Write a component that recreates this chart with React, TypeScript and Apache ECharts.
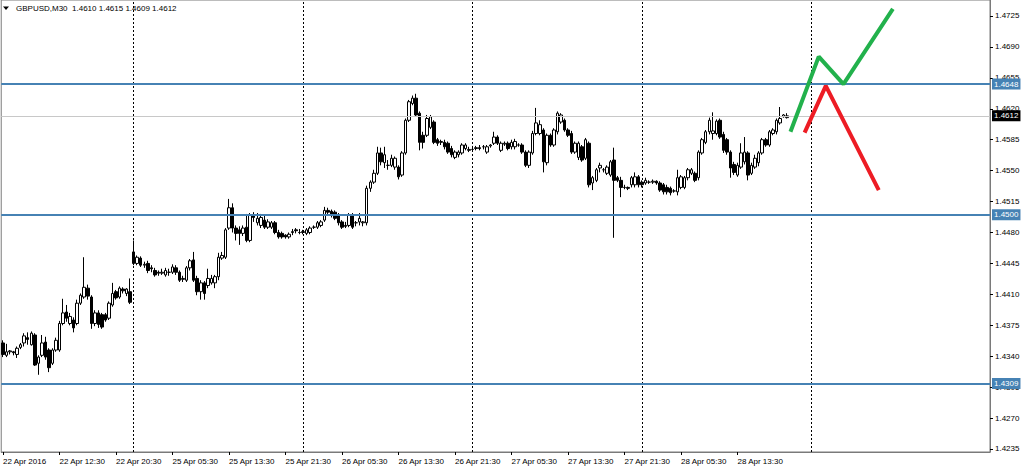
import React, { useEffect, useRef } from "react";
import * as echarts from "echarts";

// Bottom time labels, one every 16 bars (M30)
const xLabels = [
  "22 Apr 2016", "22 Apr 12:30", "22 Apr 20:30", "25 Apr 05:30", "25 Apr 13:30",
  "25 Apr 21:30", "26 Apr 05:30", "26 Apr 13:30", "26 Apr 21:30", "27 Apr 05:30",
  "27 Apr 13:30", "27 Apr 21:30", "28 Apr 05:30", "28 Apr 13:30",
];
const labelEvery = 16;
const totalSlots = 280; // includes empty chart shift on the right

// Price axis tick labels
const yTicks = [1.4235, 1.427, 1.4305, 1.434, 1.4375, 1.441, 1.4445, 1.448, 1.4515, 1.455, 1.4585, 1.462, 1.4655, 1.469, 1.4725];
const yMin = 1.42316;
const yMax = 1.47431;

// OHLC in 1/10000 units
const opens = [14355,14341,14345,14345,14342,14350,14355,14361,14353,14364,14332,14341,14356,14347,14332,14347,14347,14377,14390,14377,14381,14377,14400,14407,14417,14407,14377,14389,14387,14387,14383,14398,14413,14407,14416,14411,14413,14458,14445,14451,14443,14445,14440,14437,14435,14434,14432,14435,14435,14440,14435,14427,14426,14440,14449,14428,14413,14423,14420,14423,14423,14430,14451,14452,14485,14508,14485,14483,14479,14486,14471,14500,14491,14488,14494,14486,14486,14491,14480,14479,14477,14475,14480,14483,14480,14480,14479,14480,14486,14486,14488,14494,14505,14504,14503,14500,14492,14488,14488,14500,14491,14492,14491,14491,14530,14537,14547,14570,14559,14556,14556,14554,14554,14545,14570,14607,14626,14632,14615,14590,14590,14599,14605,14585,14582,14582,14581,14575,14565,14568,14570,14575,14573,14574,14575,14576,14577,14571,14578,14581,14588,14573,14580,14581,14577,14577,14579,14579,14571,14556,14570,14592,14592,14596,14559,14590,14579,14594,14605,14607,14596,14592,14571,14565,14577,14564,14581,14536,14539,14553,14551,14547,14545,14562,14542,14539,14531,14531,14534,14534,14543,14537,14536,14537,14537,14538,14536,14534,14531,14530,14527,14526,14531,14531,14542,14547,14547,14542,14570,14582,14594,14592,14592,14607,14591,14585,14571,14557,14545,14554,14560,14570,14547,14554,14559,14570,14585,14579,14592,14594,14604,14611,14610];
const closes = [14342,14345,14346,14344,14349,14353,14363,14359,14366,14330,14339,14355,14339,14327,14347,14358,14377,14389,14383,14385,14372,14400,14409,14418,14408,14377,14389,14376,14373,14381,14400,14411,14406,14417,14414,14416,14401,14445,14452,14443,14444,14437,14439,14432,14434,14435,14437,14435,14441,14435,14426,14428,14440,14448,14426,14413,14423,14411,14428,14428,14430,14452,14454,14483,14508,14485,14479,14479,14485,14471,14500,14497,14496,14497,14486,14492,14491,14480,14475,14475,14475,14478,14481,14482,14480,14481,14483,14485,14486,14491,14492,14505,14503,14500,14496,14491,14486,14487,14500,14486,14491,14496,14492,14530,14537,14547,14570,14560,14568,14556,14564,14564,14543,14570,14607,14628,14632,14613,14582,14582,14609,14611,14582,14581,14583,14577,14571,14568,14571,14571,14579,14579,14574,14574,14576,14575,14577,14577,14579,14588,14581,14581,14581,14575,14582,14583,14579,14571,14556,14571,14592,14604,14602,14560,14590,14579,14596,14615,14613,14596,14590,14571,14581,14581,14562,14585,14534,14542,14551,14556,14551,14554,14560,14539,14539,14531,14531,14530,14542,14543,14534,14534,14539,14537,14538,14536,14528,14526,14526,14525,14527,14542,14543,14542,14551,14551,14539,14571,14585,14594,14607,14595,14606,14588,14573,14571,14553,14548,14556,14570,14571,14545,14556,14564,14570,14585,14579,14594,14596,14607,14609,14613,14612];
const lows = [14339,14339,14342,14341,14338,14348,14351,14353,14352,14329,14319,14339,14336,14322,14330,14345,14345,14375,14379,14375,14367,14375,14398,14405,14404,14371,14374,14372,14371,14379,14381,14396,14404,14405,14411,14408,14399,14443,14443,14441,14440,14434,14435,14430,14431,14432,14430,14431,14433,14432,14424,14424,14424,14437,14424,14409,14404,14404,14417,14421,14417,14426,14449,14450,14483,14480,14471,14466,14476,14469,14469,14492,14488,14485,14484,14484,14484,14478,14473,14473,14473,14473,14477,14479,14478,14478,14477,14478,14484,14484,14486,14492,14501,14497,14494,14488,14484,14485,14486,14484,14487,14488,14487,14488,14526,14535,14545,14556,14553,14551,14554,14551,14540,14543,14568,14605,14624,14611,14573,14575,14588,14597,14580,14578,14579,14574,14569,14565,14563,14565,14568,14573,14571,14572,14573,14573,14574,14569,14576,14579,14579,14571,14578,14573,14574,14574,14577,14569,14554,14553,14568,14590,14590,14548,14556,14577,14577,14591,14603,14594,14588,14569,14569,14562,14560,14562,14531,14528,14537,14548,14548,14545,14543,14474,14537,14520,14529,14528,14531,14531,14531,14531,14534,14535,14535,14534,14526,14523,14523,14522,14525,14522,14529,14529,14539,14545,14537,14539,14568,14580,14591,14585,14590,14586,14570,14568,14542,14545,14543,14552,14557,14539,14545,14552,14555,14568,14577,14577,14590,14591,14602,14610,14609];
const highs = [14358,14354,14347,14346,14351,14355,14366,14367,14368,14366,14341,14364,14362,14349,14349,14361,14380,14405,14398,14389,14384,14404,14411,14452,14421,14409,14392,14392,14389,14389,14402,14423,14415,14419,14418,14417,14428,14471,14454,14453,14447,14448,14443,14440,14437,14439,14440,14439,14444,14443,14437,14431,14442,14450,14458,14431,14426,14425,14439,14432,14432,14457,14458,14485,14518,14513,14488,14487,14488,14501,14502,14503,14502,14501,14500,14495,14493,14493,14483,14481,14478,14480,14484,14485,14484,14483,14485,14487,14488,14493,14494,14509,14508,14506,14505,14502,14494,14492,14502,14502,14493,14502,14493,14533,14539,14551,14577,14576,14577,14562,14568,14566,14556,14572,14609,14630,14635,14637,14617,14594,14613,14613,14607,14587,14585,14585,14583,14578,14573,14573,14581,14581,14577,14578,14578,14579,14579,14579,14580,14594,14590,14583,14583,14583,14585,14586,14581,14581,14573,14573,14595,14621,14607,14598,14592,14592,14598,14617,14615,14609,14598,14595,14583,14583,14579,14587,14583,14544,14553,14559,14553,14556,14562,14576,14544,14543,14534,14532,14544,14548,14545,14539,14542,14539,14540,14539,14538,14536,14534,14532,14529,14551,14545,14544,14553,14553,14549,14573,14587,14596,14610,14616,14608,14609,14594,14587,14573,14560,14559,14581,14588,14572,14559,14568,14572,14587,14587,14596,14598,14609,14622,14614,14615];

// Horizontal levels
const levels = [1.4648, 1.45, 1.4309];
const currentPrice = 1.4612;
// Day separators (bar index)
const daySeparators = [37, 85, 133, 181, 229];

// Hand-drawn forecast arrows: [bar index, price]
const greenPath = [[223, 1.4594], [231, 1.4679], [238, 1.4648], [252, 1.4733]];
const redPath = [[227, 1.4593], [233, 1.4646], [248, 1.4528]];

const headerText = "GBPUSD,M30  1.4610 1.4615 1.4609 1.4612";

export default function App() {
  const ref = useRef<HTMLDivElement>(null);
  useEffect(() => {
    if (!ref.current) return;
    const chart = echarts.init(ref.current, undefined, { renderer: "svg" });
    const cats = Array.from({ length: totalSlots }, (_, i) => "c" + i);
    const labelAt = (i: number) =>
      i % labelEvery === 0 && i / labelEvery < xLabels.length ? xLabels[i / labelEvery] : null;
    const ohlc = opens.map((o, i) => [o / 10000, closes[i] / 10000, lows[i] / 10000, highs[i] / 10000]);
    const font = "Liberation Sans, Arial, sans-serif";

    const levelLines = levels.map((v) => ({
      yAxis: v,
      lineStyle: { color: "#4682b4", width: 2, type: "solid" },
      label: {
        show: true,
        position: "end",
        distance: 2,
        formatter: () => v.toFixed(4),
        color: "#fff",
        backgroundColor: "#4682b4",
        padding: [2, 2, 1, 2],
        fontSize: 8,
        fontFamily: font,
      },
    }));

    chart.setOption({
      animation: false,
      backgroundColor: "#fff",
      grid: { left: 1, top: 0, width: 989, height: 452, show: true, borderColor: "#7a7a7a", borderWidth: 1, backgroundColor: "transparent" },
      xAxis: {
        type: "category",
        data: cats,
        boundaryGap: true,
        axisLine: { show: true, lineStyle: { color: "#7a7a7a" } },
        axisTick: {
          show: true,
          alignWithLabel: true,
          length: 3,
          interval: (i: number) => labelAt(i) !== null,
          lineStyle: { color: "#000" },
        },
        axisLabel: {
          show: true,
          interval: (i: number) => labelAt(i) !== null,
          formatter: (_v: string, i: number) => labelAt(i) ?? "",
          align: "left",
          margin: 5,
          fontSize: 8,
          fontFamily: font,
          color: "#000",
        },
        splitLine: { show: false },
      },
      yAxis: {
        type: "value",
        position: "right",
        min: yMin,
        max: yMax,
        scale: true,
        axisLine: { show: true, lineStyle: { color: "#7a7a7a" } },
        axisTick: { show: true, length: 3, customValues: yTicks, lineStyle: { color: "#000" } },
        axisLabel: {
          show: true,
          customValues: yTicks,
          formatter: (v: number) => v.toFixed(4),
          margin: 5,
          fontSize: 8,
          fontFamily: font,
          color: "#000",
        },
        splitLine: { show: false },
      },
      graphic: [
        { type: "polygon", shape: { points: [[3, 6.5], [9, 6.5], [6, 10]] }, style: { fill: "#000" } },
        {
          type: "text",
          x: 16,
          y: 4,
          style: { text: headerText, fontSize: 8, fontFamily: font, fill: "#000" },
        },
      ],
      series: [
        {
          type: "candlestick",
          data: ohlc,
          barWidth: 3,
          itemStyle: { color: "#ffffff", color0: "#000000", borderColor: "#000000", borderColor0: "#000000", borderWidth: 1 },
          markLine: {
            silent: true,
            precision: 4,
            symbol: ["none", "none"],
            animation: false,
            data: [
              ...daySeparators.map((d) => ({
                xAxis: d,
                lineStyle: { color: "#000", width: 1, type: [2, 2] },
                label: { show: false },
              })),
              {
                yAxis: currentPrice,
                lineStyle: { color: "#c8c8c8", width: 1, type: "solid" },
                label: {
                  show: true,
                  position: "end",
                  distance: 2,
                  formatter: () => currentPrice.toFixed(4),
                  color: "#fff",
                  backgroundColor: "#000",
                  padding: [2, 2, 1, 2],
                  fontSize: 8,
                  fontFamily: font,
                },
              },
              ...levelLines,
            ],
          },
        },
        {
          type: "line",
          data: greenPath,
          symbol: "none",
          lineStyle: { color: "#22b14c", width: 4 },
          z: 5,
        },
        {
          type: "line",
          data: redPath,
          symbol: "none",
          lineStyle: { color: "#ed1c24", width: 4 },
          z: 5,
        },
      ],
    });
    return () => chart.dispose();
  }, []);
  return <div ref={ref} style={{ position: "absolute", left: 0, top: 0, width: 1024, height: 471 }} />;
}
